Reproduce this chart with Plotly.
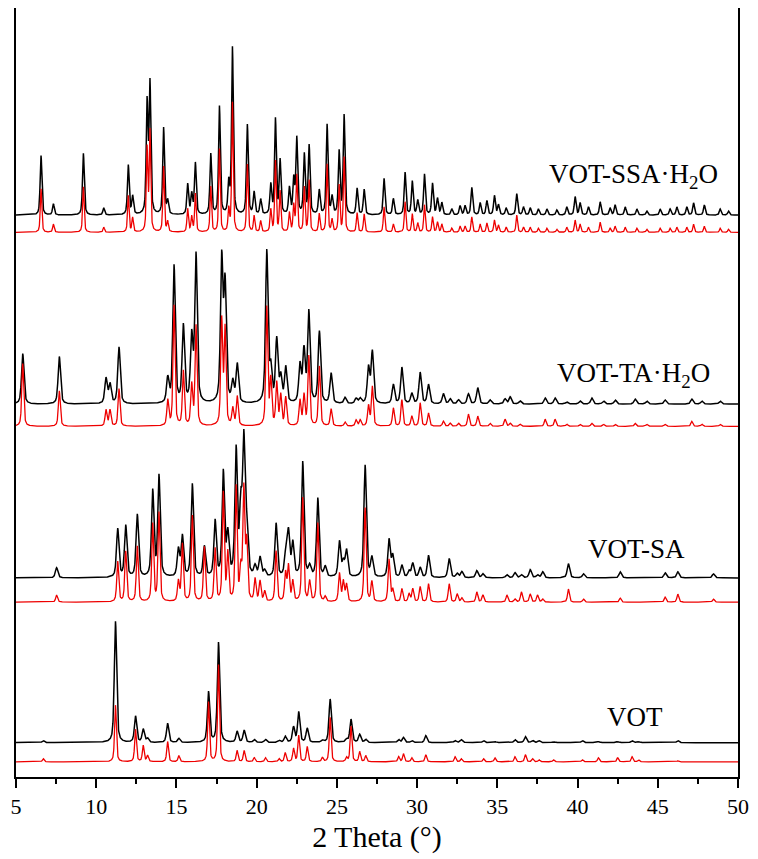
import numpy as np
import plotly.graph_objects as go

# ---------------- data: peak lists ----------------
# VOT-SSA·H2O
ssa_pos = [6.56, 7.33, 9.2, 10.47, 12.0, 12.27, 13.17, 13.35, 14.2, 14.45, 15.7, 15.95, 16.18,
           17.14, 17.68, 18.26, 18.49, 19.42, 19.84, 20.25, 20.88, 21.17, 21.46, 22.04, 22.31,
           22.5, 22.97, 23.27, 23.9, 24.39, 24.7, 25.14, 25.45, 26.26, 26.7, 27.94, 28.52, 29.25,
           29.7, 30.04, 30.46, 30.96, 31.27, 31.54, 32.16, 32.68, 32.99, 33.41, 33.93, 34.35,
           34.82, 35.07, 35.55, 36.21, 36.63, 37.05, 37.56, 38.09, 38.71, 39.33, 39.85, 40.16,
           40.68, 41.41, 42.03, 42.34, 42.97, 43.7, 44.32, 45.15, 45.77, 46.19, 46.81, 47.23,
           47.9, 48.89, 49.41]
ssa_exp = [59, 11, 61, 7, 49, 18, 109, 128, 86, 13, 30, 20, 51,
           60, 107, 30, 165, 89, 22, 15, 29, 94, 53, 26, 34,
           75, 59, 68, 24, 89, 17, 62, 98, 26, 25, 36, 16, 42,
           33, 14, 40, 31, 16, 12, 6, 9, 9, 27, 12, 14,
           19, 10, 7, 21, 8, 7, 6, 6, 5, 8, 18, 12,
           8, 13, 7, 10, 8, 6, 4, 6, 6, 8, 8, 12,
           10, 6, 4]
ssa_sim = [43, 8, 45, 5, 36, 14, 82, 99, 65, 10, 23, 15, 38,
           45, 82, 22, 128, 67, 16, 11, 22, 70, 40, 19, 26,
           56, 44, 51, 18, 67, 12, 46, 74, 19, 18, 25, 8, 30,
           18, 9, 27, 15, 10, 8, 4, 6, 6, 15, 8, 9,
           12, 7, 5, 17, 5, 5, 4, 4, 3, 5, 12, 8,
           5, 10, 4, 6, 5, 4, 3, 4, 4, 5, 5, 8,
           6, 4, 3]

# VOT-TA·H2O
ta_pos = [5.42, 7.7, 10.61, 10.86, 11.42, 14.46, 14.85, 15.43, 15.95, 16.22, 17.82, 18.03,
          18.51, 18.79, 20.63, 20.88, 21.25, 21.5, 21.81, 22.7, 22.95, 23.25, 23.91, 24.64,
          25.51, 26.2, 26.45, 26.97, 27.21, 28.52, 29.05, 29.67, 30.19, 30.71, 31.64, 32.06,
          32.58, 33.2, 33.78, 34.55, 35.48, 35.8, 36.42, 37.98, 38.6, 39.33, 40.16, 40.89,
          41.62, 42.35, 43.59, 44.32, 45.46, 47.12, 47.75, 48.89]
ta_exp = [50, 47, 25, 19, 56, 24, 136, 76, 64, 146, 141, 115,
          20, 38, 150, 32, 62, 25, 35, 37, 51, 90, 71, 30,
          6, 5, 5, 35, 51, 19, 36, 10, 31, 19, 10, 5,
          4, 10, 16, 4, 5, 7, 3, 6, 6, 2, 3, 6,
          3, 4, 5, 3, 4, 5, 3, 3]
ta_sim = [62, 35, 16, 16, 37, 25, 119, 54, 40, 99, 104, 95,
          17, 29, 117, 45, 42, 30, 28, 25, 30, 69, 59, 17,
          4, 6, 6, 20, 39, 18, 26, 10, 23, 13, 5, 3,
          3, 12, 10, 3, 7, 3, 2, 7, 7, 2, 2, 3,
          2, 2, 3, 2, 2, 5, 2, 2]

# VOT-SA
sa_pos = [7.53, 11.34, 11.84, 12.56, 13.52, 13.91, 15.12, 15.37, 15.99, 16.74, 17.41, 17.92,
          18.2, 18.72, 19.01, 19.2, 19.38, 19.9, 20.21, 20.5, 21.21, 21.8, 21.98, 22.25, 22.87,
          23.3, 23.81, 24.27, 25.16, 25.4, 25.6, 26.76, 27.18, 28.25, 28.48, 29.05, 29.5, 29.73,
          30.19, 30.71, 32.0, 32.5, 32.79, 33.72, 34.1, 35.6, 36.1, 36.5, 37.05, 37.5, 37.83,
          39.43, 40.37, 42.66, 45.46, 46.25, 48.47]
sa_exp = [10, 48, 51, 62, 85, 100, 27, 40, 92, 30, 55, 103,
          41, 124, 65, 130, 44, 10, 19, 6, 53, 20, 44, 33, 114,
          10, 78, 10, 35, 14, 26, 111, 19, 37, 21, 12, 6, 14,
          10, 22, 19, 4, 6, 7, 4, 3, 5, 3, 8, 3, 6,
          14, 4, 6, 5, 6, 4]
sa_sim = [7, 40, 50, 55, 77, 88, 20, 57, 85, 54, 52, 107,
          47, 113, 30, 110, 57, 22, 20, 10, 50, 28, 35, 20, 103,
          20, 78, 5, 28, 20, 17, 93, 20, 42, 12, 13, 8, 13,
          15, 18, 18, 8, 4, 10, 7, 7, 3, 10, 8, 7, 3,
          13, 3, 4, 5, 8, 3]

# VOT
vot_pos = [6.7, 11.2, 12.45, 12.93, 13.2, 14.45, 15.15, 17.0, 17.62, 18.78, 19.22, 19.85,
           20.55, 21.4, 21.78, 22.3, 22.62, 23.15, 24.1, 24.58, 25.6, 25.88, 26.42, 26.8,
           28.85, 29.15, 29.67, 30.54, 32.37, 32.75, 34.14, 34.85, 36.1, 36.75, 37.2, 37.6,
           38.5, 40.3, 41.3, 42.5, 43.4, 43.8, 46.25]
vot_exp = [2, 120, 26, 13, 4, 19, 4, 50, 99, 11, 12, 3,
           3, 2, 6, 15, 30, 14, 2, 43, 3, 23, 8, 3,
           3, 5, 2, 7, 2, 3, 2, 1, 3, 6, 2, 2,
           1, 2, 1, 1, 2, 1, 2]
vot_sim = [3, 56, 32, 16, 6, 20, 6, 59, 96, 11, 11, 4,
           4, 3, 9, 13, 26, 15, 4, 44, 4, 35, 10, 6,
           5, 8, 4, 7, 5, 3, 3, 4, 5, 7, 3, 2,
           2, 2, 4, 4, 5, 2, 1]

labels = ["VOT-SSA·H<sub>2</sub>O", "VOT-TA·H<sub>2</sub>O", "VOT-SA", "VOT"]
x_ticks = [5, 10, 15, 20, 25, 30, 35, 40, 45, 50]

SERIF = "'Liberation Serif', 'Times New Roman', 'DejaVu Serif', serif"

# ---------------- rendering ----------------
tt = np.arange(5.0, 50.0001, 0.01)


def profile(pos, hts, hw):
    y = np.zeros_like(tt)
    for p, h in zip(pos, hts):
        d = (tt - p) / hw
        y += h * (0.55 / (1 + d * d) + 0.45 * np.exp(-np.log(2) * d * d))
    return y


# (positions, heights, half-width, baseline level, colour, line width)
curves = [
    (ssa_pos, ssa_exp, 0.065, 556, "black", 1.5),
    (ssa_pos, ssa_sim, 0.055, 539, "#ee0000", 1.3),
    (ta_pos, ta_exp, 0.09, 369, "black", 1.5),
    (ta_pos, ta_sim, 0.07, 347, "#ee0000", 1.3),
    (sa_pos, sa_exp, 0.09, 197, "black", 1.5),
    (sa_pos, sa_sim, 0.07, 173, "#ee0000", 1.3),
    (vot_pos, vot_exp, 0.085, 34, "black", 1.5),
    (vot_pos, vot_sim, 0.065, 15, "#ee0000", 1.3),
]

fig = go.Figure()
for pos, hts, hw, base, col, lw in curves:
    fig.add_trace(go.Scatter(x=tt, y=base + profile(pos, hts, hw), mode="lines",
                             line=dict(color=col, width=lw), hoverinfo="skip"))

label_xy = [(43.47, 595), (43.47, 398), (43.65, 226), (43.6, 59)]
for txt, (lx, ly) in zip(labels, label_xy):
    fig.add_annotation(x=lx, y=ly, text=txt, showarrow=False, xanchor="center", yanchor="middle",
                       font=dict(family=SERIF, size=27, color="black"))

# the page body adds an 8 px margin, so the figure is sized to fit inside it
fig.update_layout(
    width=750, height=851,
    margin=dict(l=8, r=20, t=0, b=82),
    paper_bgcolor="white", plot_bgcolor="white",
    showlegend=False,
    font=dict(family=SERIF, color="black"),
    xaxis=dict(range=[5, 50], tickvals=x_ticks, ticktext=[str(v) for v in x_ticks],
               ticks="outside", ticklen=9, tickwidth=2, tickcolor="black",
               minor=dict(ticks="outside", ticklen=5, tickwidth=2, tickcolor="black",
                          tickvals=[7.5, 12.5, 17.5, 22.5, 27.5, 32.5, 37.5, 42.5, 47.5]),
               showline=True, linecolor="black", linewidth=2, mirror=True,
               showgrid=False, zeroline=False, automargin=False,
               tickfont=dict(family=SERIF, size=22),
               title=dict(text="2 Theta (°)", font=dict(family=SERIF, size=30),
                          standoff=8)),
    yaxis=dict(range=[0, 761], showticklabels=False, ticks="", showgrid=False, zeroline=False,
               showline=True, linecolor="black", linewidth=2, mirror=True, automargin=False),
)

fig.write_html("out.html")
